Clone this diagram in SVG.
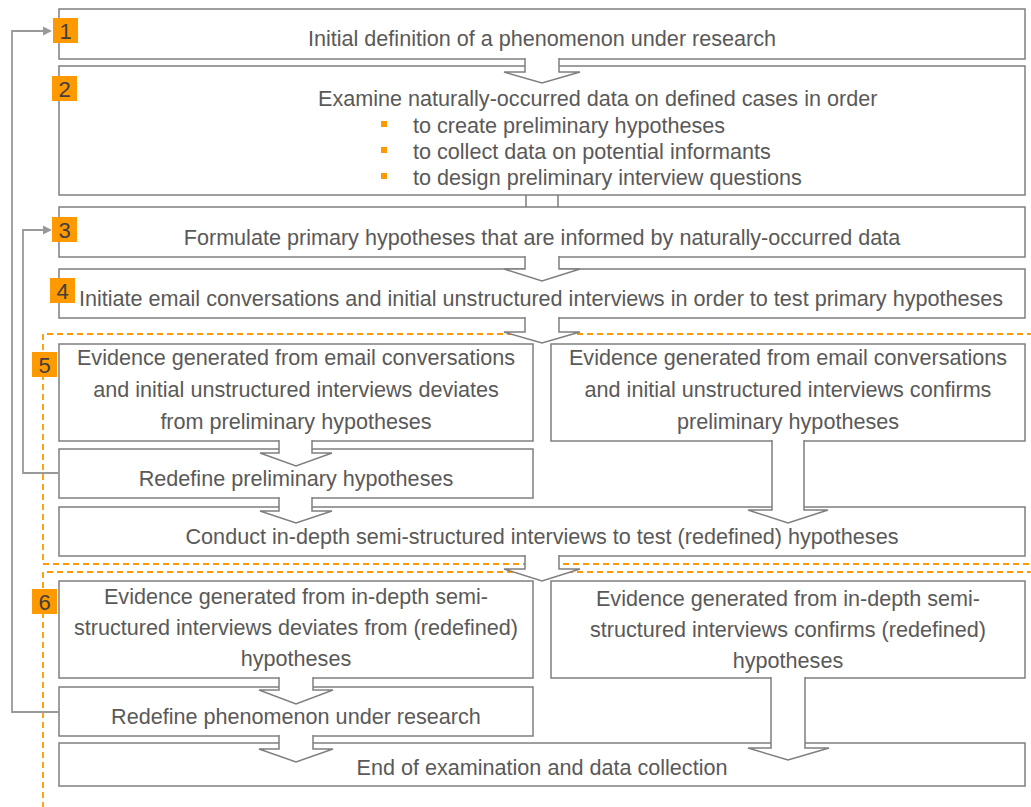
<svg xmlns="http://www.w3.org/2000/svg" width="1031" height="807" viewBox="0 0 1031 807">
<style>
.box{fill:#fff;stroke:#7f7f7f;stroke-width:1.5}
.arr{fill:#fff;stroke:#7f7f7f;stroke-width:1.5;stroke-linejoin:miter}
.t{font-family:"Liberation Sans",Arial,sans-serif;font-size:21.6px;fill:#595959}
.c{text-anchor:middle}
.badge{fill:#ff9900}
.num{font-family:"Liberation Sans",Arial,sans-serif;font-size:22px;fill:#404040;text-anchor:middle}
.dash{fill:none;stroke:#ff9900;stroke-width:1.8;stroke-dasharray:6 4}
.fb{fill:none;stroke:#999;stroke-width:1.8}
.fbh{fill:#999}
.bul{fill:#ff9900}
</style>
<rect width="1031" height="807" fill="#fff"/>
<g id="groups">
<path class="dash" d="M1033,334 H43 V564 H1033"/>
<path class="dash" d="M1033,572 H43 V810"/>
</g>
<g id="connectors-back">
<path class="arr" d="M526,194 L526,210 L504,210 L542,221 L580,210 L558,210 L558,194"/>
</g>
<g id="n1"><rect class="box" x="59" y="9" width="966" height="50"/><text class="t c" x="542" y="46">Initial definition of a phenomenon under research</text></g>
<g id="n2"><rect class="box" x="59" y="66" width="966" height="129"/>
<text class="t" x="318" y="106">Examine naturally-occurred data on defined cases in order</text>
<rect class="bul" x="381" y="121" width="6" height="6"/><text class="t" x="413" y="133">to create preliminary hypotheses</text>
<rect class="bul" x="381" y="147" width="6" height="6"/><text class="t" x="413" y="159">to collect data on potential informants</text>
<rect class="bul" x="381" y="173" width="6" height="6"/><text class="t" x="413" y="185">to design preliminary interview questions</text>
</g>
<g id="n3"><rect class="box" x="59" y="207" width="966" height="50"/><text class="t c" x="542" y="245">Formulate primary hypotheses that are informed by naturally-occurred data</text></g>
<g id="n4"><rect class="box" x="59" y="269" width="966" height="49"/><text class="t c" x="541" y="306">Initiate email conversations and initial unstructured interviews in order to test primary hypotheses</text></g>
<g id="n5a"><rect class="box" x="59" y="344" width="474" height="97"/>
<text class="t c" x="296" y="365">Evidence generated from email conversations</text>
<text class="t c" x="296" y="397">and initial unstructured interviews deviates</text>
<text class="t c" x="296" y="429">from preliminary hypotheses</text></g>
<g id="n5b"><rect class="box" x="551" y="344" width="474" height="97"/>
<text class="t c" x="788" y="365">Evidence generated from email conversations</text>
<text class="t c" x="788" y="397">and initial unstructured interviews confirms</text>
<text class="t c" x="788" y="429">preliminary hypotheses</text></g>
<g id="n5c"><rect class="box" x="59" y="449" width="474" height="49"/><text class="t c" x="296" y="486">Redefine preliminary hypotheses</text></g>
<g id="n5d"><rect class="box" x="59" y="507" width="966" height="49"/><text class="t c" x="542" y="544">Conduct in-depth semi-structured interviews to test (redefined) hypotheses</text></g>
<g id="n6a"><rect class="box" x="59" y="581" width="474" height="97"/>
<text class="t c" x="296" y="604">Evidence generated from in-depth semi-</text>
<text class="t c" x="296" y="635">structured interviews deviates from (redefined)</text>
<text class="t c" x="296" y="666">hypotheses</text></g>
<g id="n6b"><rect class="box" x="551" y="581" width="474" height="97"/>
<text class="t c" x="788" y="606">Evidence generated from in-depth semi-</text>
<text class="t c" x="788" y="637">structured interviews confirms (redefined)</text>
<text class="t c" x="788" y="668">hypotheses</text></g>
<g id="n6c"><rect class="box" x="59" y="687" width="474" height="49"/><text class="t c" x="296" y="724">Redefine phenomenon under research</text></g>
<g id="n6d"><rect class="box" x="59" y="743" width="966" height="43"/><text class="t c" x="542" y="775">End of examination and data collection</text></g>
<g id="connectors">
<path class="arr" d="M525,58 L525,72 L504,72 L542,83 L580,72 L559,72 L559,58"/>
<path class="arr" d="M525,256 L525,269 L504,269 L542,281 L580,269 L559,269 L559,256"/>
<path class="arr" d="M525,317 L525,332 L504,332 L542,343 L580,332 L559,332 L559,317"/>
<path class="arr" d="M279,440 L279,453 L260,453 L296,466 L332,453 L312,453 L312,440"/>
<path class="arr" d="M279,497 L279,511 L260,511 L296,523 L332,511 L312,511 L312,497"/>
<path class="arr" d="M772,440 L772,510 L748,510 L788,523 L828,510 L804,510 L804,440"/>
<path class="arr" d="M525,555 L525,569 L504,569 L542,581 L580,569 L559,569 L559,555"/>
<path class="arr" d="M279,677 L279,690 L259,690 L296,704 L333,690 L313,690 L313,677"/>
<path class="arr" d="M279,735 L279,749 L259,749 L296,762 L333,749 L313,749 L313,735"/>
<path class="arr" d="M771,677 L771,748 L748,748 L788,760 L829,748 L805,748 L805,677"/>
<polyline class="fb" points="59,712 12,712 12,31 44,31"/>
<polygon class="fbh" points="52,31 43,26.5 43,35.5"/>
<polyline class="fb" points="59,473 23,473 23,230 44,230"/>
<polygon class="fbh" points="52,230 43,225.5 43,234.5"/>
</g>
<g id="badges">
<rect class="badge" x="53" y="18" width="25" height="25"/><text class="num" x="65.5" y="38.5">1</text>
<rect class="badge" x="52" y="76" width="25" height="25"/><text class="num" x="64.5" y="96.5">2</text>
<rect class="badge" x="52" y="217" width="25" height="25"/><text class="num" x="64.5" y="237.5">3</text>
<rect class="badge" x="50" y="278" width="25" height="25"/><text class="num" x="62.5" y="298.5">4</text>
<rect class="badge" x="32" y="352" width="25" height="25"/><text class="num" x="44.5" y="372.5">5</text>
<rect class="badge" x="32" y="589" width="25" height="25"/><text class="num" x="44.5" y="609.5">6</text>
</g>
</svg>
